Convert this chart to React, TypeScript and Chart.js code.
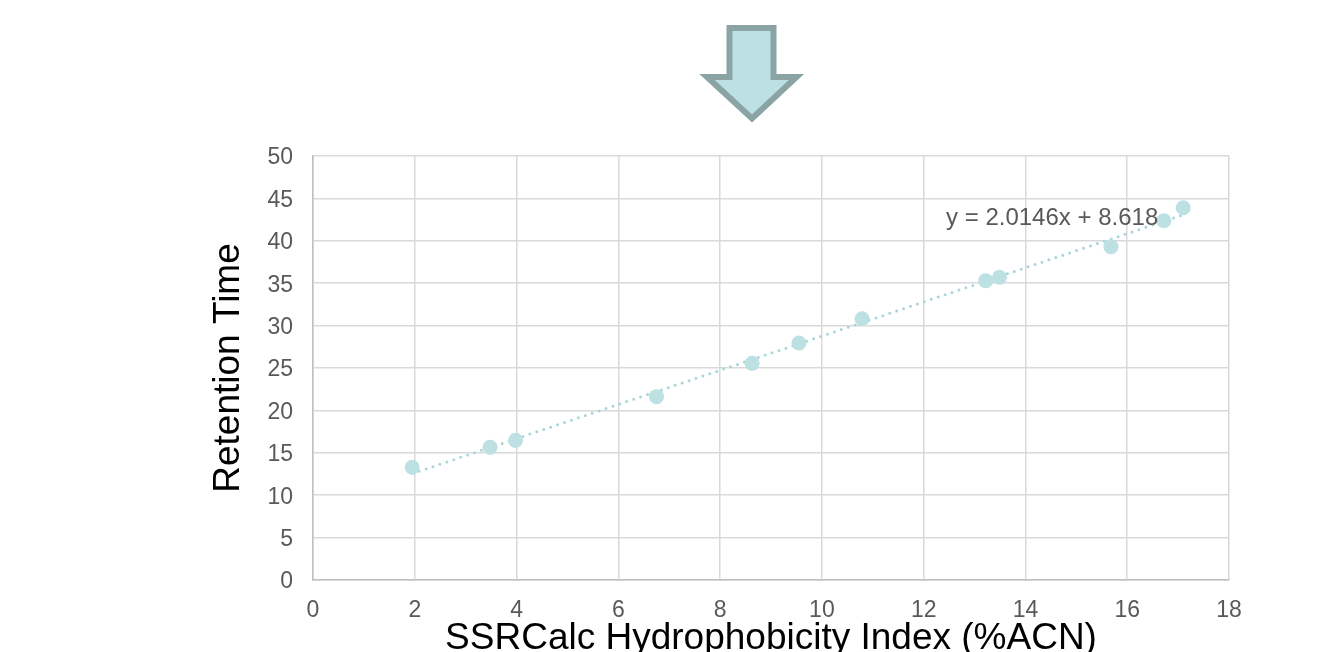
import React, { useEffect, useRef } from "react";
import { Chart, registerables } from "chart.js";

Chart.register(...registerables);

const hydrophobicity = [1.95, 3.48, 3.98, 6.75, 8.63, 9.55, 10.79, 13.22, 13.49, 15.68, 16.72, 17.1];
const retentionTime = [13.3, 15.65, 16.47, 21.62, 25.55, 27.95, 30.81, 35.3, 35.7, 39.31, 42.37, 43.9];
const trendSlope = 2.0146;
const trendIntercept = 8.618;
const trendLabel = "y = 2.0146x + 8.618";
const trendLabelPos = { x: 12.44, y: 41.86 };
const xTitle = "SSRCalc Hydrophobicity Index (%ACN)";
const yTitle = "Retention Time";

const FONT = "'Liberation Sans', Arial, sans-serif";
const POINT_COLOR = "#bde0e3";
const TREND_COLOR = "#a9d6da";

export default function App() {
  const ref = useRef<HTMLCanvasElement | null>(null);

  useEffect(() => {
    if (!ref.current) return;
    const xs = hydrophobicity;
    const xMin = Math.min(...xs);
    const xMax = Math.max(...xs);
    const trend = [
      { x: xMin, y: trendSlope * xMin + trendIntercept },
      { x: xMax, y: trendSlope * xMax + trendIntercept },
    ];
    const labelPlugin = {
      id: "trendLabel",
      afterDatasetsDraw(chart: any) {
        const { ctx, scales } = chart;
        ctx.save();
        ctx.font = `24px ${FONT}`;
        ctx.fillStyle = "#595959";
        ctx.textAlign = "left";
        ctx.textBaseline = "alphabetic";
        ctx.fillText(
          trendLabel,
          scales.x.getPixelForValue(trendLabelPos.x),
          scales.y.getPixelForValue(trendLabelPos.y)
        );
        ctx.restore();
      },
    };
    const chart = new Chart(ref.current, {
      type: "scatter",
      data: {
        datasets: [
          {
            type: "line",
            data: trend,
            borderColor: TREND_COLOR,
            borderWidth: 3,
            borderDash: [0, 7.3],
            borderCapStyle: "round",
            pointRadius: 0,
            fill: false,
            order: 2,
          } as any,
          {
            data: xs.map((x, i) => ({ x, y: retentionTime[i] })),
            backgroundColor: POINT_COLOR,
            borderWidth: 0,
            pointRadius: 7.5,
            order: 1,
          },
        ],
      },
      options: {
        animation: false,
        responsive: true,
        maintainAspectRatio: false,
        layout: { padding: { left: 207, top: 156, right: 102, bottom: 19 } },
        plugins: { legend: { display: false }, tooltip: { enabled: false } },
        scales: {
          x: {
            type: "linear",
            min: 0,
            max: 18,
            afterFit: (s: any) => {
              s.height = 81;
            },
            ticks: {
              stepSize: 2,
              padding: 17,
              color: "#595959",
              font: { family: FONT, size: 23 },
            },
            grid: { color: "#d9d9d9", lineWidth: 1.5, drawTicks: false },
            border: { color: "#bfbfbf", width: 1.5 },
            title: {
              display: true,
              text: xTitle,
              color: "#000000",
              font: { family: FONT, size: 37, lineHeight: 1.2 },
              padding: 0,
            },
          },
          y: {
            type: "linear",
            min: 0,
            max: 50,
            afterFit: (s: any) => {
              s.width = 106;
            },
            ticks: {
              stepSize: 5,
              padding: 20,
              labelOffset: 2,
              color: "#595959",
              font: { family: FONT, size: 23 },
            },
            grid: { color: "#d9d9d9", lineWidth: 1.5, drawTicks: false },
            border: { color: "#bfbfbf", width: 1.5 },
            title: {
              display: true,
              text: yTitle,
              color: "#000000",
              font: { family: FONT, size: 37, lineHeight: 1.2 },
              padding: 0,
            },
          },
        },
      },
      plugins: [labelPlugin],
    });
    return () => chart.destroy();
  }, []);

  return (
    <div
      style={{
        position: "fixed",
        left: 0,
        top: 0,
        width: 1331,
        height: 652,
        overflow: "hidden",
        background: "#ffffff",
      }}
    >
      <svg
        width={1331}
        height={140}
        style={{ position: "absolute", left: 0, top: 0 }}
      >
        <polygon
          points="729.5,28 773.5,28 773.5,77 796.5,77 752,118.5 707,77 729.5,77"
          fill="#bde0e3"
          stroke="#8aa3a5"
          strokeWidth={6}
          strokeLinejoin="miter"
        />
      </svg>
      <div style={{ position: "absolute", left: 0, top: 0, width: 1331, height: 680 }}>
        <canvas ref={ref} />
      </div>
    </div>
  );
}
